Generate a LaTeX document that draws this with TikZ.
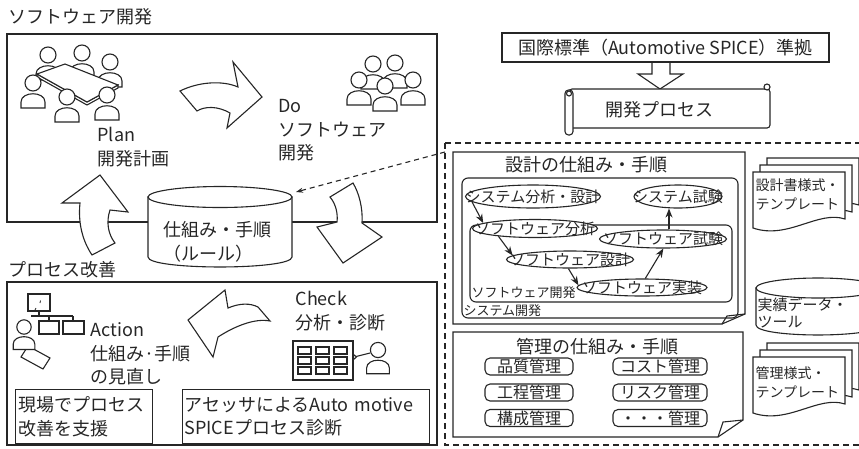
\documentclass[tikz,border=0pt]{standalone}
\usepackage{fontspec}
\setmainfont{Noto Sans CJK JP}
\usetikzlibrary{arrows.meta,shapes.geometric,calc}
\definecolor{ink}{HTML}{262626}
\newcommand\fsmain{\fontsize{18}{23.5}\selectfont}
\newcommand\fsbox{\fontsize{16}{20}\selectfont}
\newcommand\fsoval{\fontsize{15}{17.5}\selectfont}
\newcommand\fsdoc{\fontsize{14}{19}\selectfont}
\newcommand\fssmall{\fontsize{13}{16}\selectfont}

\tikzset{
  txt/.style={inner sep=0pt, font=\fsmain, text=ink, align=left},
  blockarrow/.style={draw=ink, fill=white, line join=miter},
  oval/.style={draw=ink, fill=white, ellipse, inner sep=0pt},
  ovaltext/.style={font=\fsoval, text=ink, inner sep=0pt},
  flow/.style={draw=ink, -{Stealth[length=9pt,width=7pt]}},
  mgmt/.style={draw=ink, fill=white, rounded corners=5pt, minimum height=17pt,
    inner sep=0pt, font=\fsbox, text=ink},
  notebox/.style={draw=ink, anchor=north west, minimum height=54pt, inner ysep=0pt,
    align=left, font=\fsmain, text=ink},
  person/.pic={
    \draw[fill=white] (-12,25) -- (-12,19) .. controls (-12,8) and (12,8) .. (12,19) -- (12,25) -- cycle;
    \draw[fill=white] (0,0) circle (8);
  },
  docpage/.pic={
    \draw[fill=white] (0,0) -- (92,0) -- (92,47) .. controls (65,38) and (35,68) .. (0,56) -- cycle;
  },
}

\begin{document}
\begin{tikzpicture}[x=1pt, y=-1pt, line width=1.1pt, color=ink]
\useasboundingbox (0,0) rectangle (859,448);

% ---------- software development frame ----------
\draw (7,34) rectangle (437,222);
\node[txt, anchor=west] (devtitle) at (8,16.5) {ソフトウェア開発};

% planning meeting
\pic at (48,55) {person};
\pic at (82,53) {person};
\pic at (110,62) {person};
\draw[fill=white] (37,74) -- (37,77) -- (87,105) -- (118,88) -- (118,85) -- (87,102) -- cycle;
\draw[fill=white] (37,74) -- (65,64) -- (118,85) -- (87,102) -- cycle;
\pic at (33,83) {person};
\pic at (67,97) {person};
\pic at (107,95) {person};
\node[txt, anchor=north west] (plan) at (97,127) {Plan\\開発計画};

% development team
\pic at (373,64) {person};
\pic at (395,63) {person};
\pic at (359,80) {person};
\pic at (413,80) {person};
\pic at (385,86) {person};
\node[txt, anchor=north west] (do) at (278,99) {Do\\ソフトウェア\\開発};

% ---------- process improvement frame ----------
\draw (7,282) rectangle (437,445);
\node[txt, anchor=west] (imptitle) at (8,270) {プロセス改善};

% PDCA arrows
\draw[blockarrow] (180,91) .. controls (198,82) and (222,80) .. (238,87) -- (233,62) -- (262,97)
  -- (227,128) -- (230,113) .. controls (218,106) and (205,106) .. (197,111) -- cycle;
\draw[blockarrow] (330,197) .. controls (336,204) and (338,214) .. (337,222) -- (317,227) -- (343,263)
  -- (382,237) -- (362,223) .. controls (363,208) and (359,193) .. (353,183) -- cycle;
\draw[blockarrow] (225,290) -- (228,308) .. controls (240,303) and (250,303) .. (258,307) -- (270,321)
  .. controls (255,318) and (235,326) .. (218,337) -- (213,357) -- (188,320) -- cycle;
\draw[blockarrow] (100,175) -- (128,212) -- (110,210) .. controls (106,222) and (108,234) .. (115,243)
  -- (92,255) .. controls (82,240) and (78,222) .. (80,203) -- (62,203) -- cycle;

% rules store
\draw[fill=white] (148,197) -- (148,257) .. controls (148,270.3) and (292,270.3) .. (292,257) -- (292,197) -- cycle;
\draw[fill=white] (220,197) ellipse [x radius=72, y radius=10.5];
\node[txt, anchor=north west] (rules) at (163,221) {仕組み・手順\\（ルール）};
\coordinate (rulestop) at (296,192);

% action: organisation chart and reviewer
\draw (28,294) rectangle (50,311);
\draw[line width=0.8pt] (40.5,300.5) -- (40,303);
\draw[line width=0.8pt] (36,308) -- (35,310);
\draw (39,311) -- (39,316);
\draw (31,316) -- (73,316);
\draw (49,316) -- (49,321);
\draw (73,316) -- (73,321);
\draw (39,321) rectangle (59,334);
\draw (63,321) rectangle (84,334);
\draw[fill=white] (28,346) -- (50,358) -- (43,369) -- (21,357) -- cycle;
\pic[scale=0.9] at (24,327) {person};
\node[txt, anchor=north west] (act) at (90,322) {Action\\仕組み·手順\\の見直し};

% check: assessment board and assessor
\node[txt, anchor=north west] (chk) at (295,291) {Check\\分析・診断};
\draw (293,341) rectangle (353,380);
\foreach \cx in {298,316,334}
  \foreach \cy in {347,357,367}
    \draw (\cx,\cy) rectangle ++(13,7);
\pic[scale=0.95] at (378,350) {person};
\draw (354.5,357) circle (1.8);
\draw (356,356.5) -- (370,353);

\node[notebox, minimum width=137pt, text width=131pt, inner xsep=3pt] (onsite) at (15,389)
  {現場でプロセス\\改善を支援};
\node[notebox, minimum width=247pt, text width=243pt, inner xsep=2pt] (assess) at (182,389)
  {アセッサによるAuto motive\\SPICEプロセス診断};

% ---------- standard and process definition ----------
\draw[blockarrow] (652,62) -- (652,74) -- (638,74) -- (660,89) -- (683,74) -- (670,74) -- (670,62);
\node[draw, fill=white, minimum width=327pt, minimum height=29pt, inner sep=0pt, font=\fsmain, text=ink]
  (std) at (665.5,47.5) {国際標準（Automotive SPICE）準拠};

\draw[fill=white, rounded corners=3pt] (569,89) -- (770,89) -- (770,128) -- (569,128) -- cycle;
\draw[fill=white] (767,87) circle (3);
\draw[fill=white, rounded corners=3.5pt] (565,90) rectangle (573,135);
\draw (569,93.5) circle (2.5);
\node[txt] (proc) at (659,110) {開発プロセス};

% ---------- process assets ----------
\draw[dash pattern=on 6pt off 4pt] (445,143) rectangle (866,445);
\coordinate (assetedge) at (445,152);
\draw[dash pattern=on 5pt off 4pt, -{Stealth[length=7pt,width=5pt]}] (assetedge) -- (rulestop);

% design mechanisms
\draw[fill=white] (453,152) -- (745,152) -- (745,314) -- (722,324) -- (453,324) -- cycle;
\draw (722,324) -- (727,316) -- (745,314);
\node[txt] (designttl) at (586.5,165) {設計の仕組み・手順};
\draw[rounded corners=6pt] (462,178) rectangle (738,318);
\node[txt, font=\fssmall, anchor=west] (sysdev) at (463,311) {システム開発};
\draw[rounded corners=6pt] (470,225) rectangle (732,302);
\node[txt, font=\fssmall, anchor=west] (swdev) at (471,293) {ソフトウェア開発};

\node[oval, minimum width=135pt, minimum height=23pt, label={[ovaltext]center:システム分析・設計}] (sa) at (533,196.5) {};
\node[oval, minimum width=88pt, minimum height=23pt, label={[ovaltext]center:システム試験}] (st) at (678,196.5) {};
\node[oval, minimum width=125pt, minimum height=18pt, label={[ovaltext]center:ソフトウェア分析}] (swa) at (535,228.5) {};
\node[oval, minimum width=127pt, minimum height=18pt, label={[ovaltext]center:ソフトウェア試験}] (swt) at (663,239) {};
\node[oval, minimum width=127pt, minimum height=17pt, label={[ovaltext]center:ソフトウェア設計}] (swd) at (570,259.5) {};
\node[oval, minimum width=130pt, minimum height=17pt, label={[ovaltext]center:ソフトウェア実装}] (swi) at (642,287.5) {};

\draw[flow] (sa.185) -- (swa.174);
\draw[flow] (swa.192) -- (swd.176);
\draw[flow] (swd.260) -- (swi.178);
\draw[flow] (swi.70) -- (swt.272);
\draw[flow] ([xshift=6pt]swt.north) -- ([xshift=6pt]swt.north |- st.south);

% management mechanisms
\draw[fill=white] (453,332) -- (743,332) -- (743,420) -- (718,437) -- (453,437) -- cycle;
\draw (718,437) -- (723,422) -- (743,420);
\node[txt] (mgmtttl) at (597.5,347) {管理の仕組み・手順};
\node[mgmt, minimum width=88pt] (quality) at (529,366.5) {品質管理};
\node[mgmt, minimum width=94pt] (cost) at (660,366.5) {コスト管理};
\node[mgmt, minimum width=88pt] (schedule) at (529,392.5) {工程管理};
\node[mgmt, minimum width=94pt] (risk) at (660,392.5) {リスク管理};
\node[mgmt, minimum width=88pt] (config) at (529,418) {構成管理};
\node[mgmt, minimum width=94pt] (other) at (660,418) {・・・管理};

% templates and tools
\pic at (767,158) {docpage};
\pic at (760,165) {docpage};
\pic at (753,172) {docpage};
\node[txt, font=\fsdoc, anchor=north west] (designdoc) at (755,178) {設計書様式・\\テンプレート};

\draw[fill=white] (756,288) -- (756,325) .. controls (756,338.3) and (880,338.3) .. (880,325) -- (880,288) -- cycle;
\draw[fill=white] (818,288) ellipse [x radius=62, y radius=10];
\node[txt, font=\fsoval, anchor=north west] (perf) at (757,297) {実績データ・\\ツール};

\pic at (767,343) {docpage};
\pic at (760,350) {docpage};
\pic at (753,357) {docpage};
\node[txt, font=\fsdoc, anchor=north west] (mgmtdoc) at (755,366) {管理様式・\\テンプレート};
\end{tikzpicture}
\end{document}
